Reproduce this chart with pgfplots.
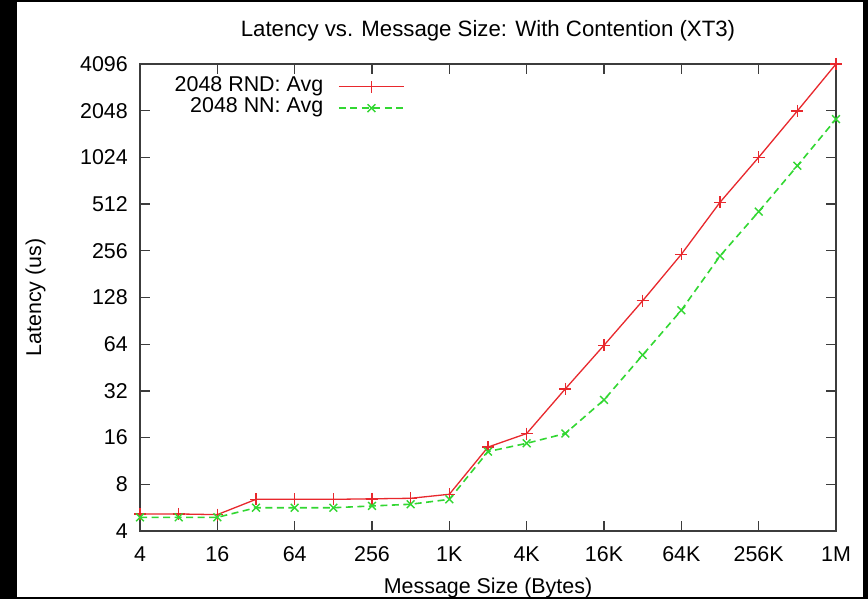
\documentclass[border=0pt]{standalone}
\usepackage{pgfplots}
\pgfplotsset{compat=1.18}
\usepackage{fontspec}
\setmainfont{Liberation Sans}
\definecolor{gpred}{RGB}{232,40,45}
\definecolor{gpgreen}{RGB}{50,215,50}
\definecolor{axgray}{RGB}{60,60,60}
\begin{document}
\begin{tikzpicture}[x=1bp,y=1bp]
\fill[black] (0,0) rectangle (868,599);
\fill[white] (17,2) rectangle (863,596.5);
\begin{axis}[
  at={(140bp,68bp)}, anchor=south west, scale only axis,
  width=696bp, height=467bp,
  xmode=log, ymode=log, log basis x=2, log basis y=2,
  xmin=4, xmax=1048576, ymin=4, ymax=4096,
  xtick={4,16,64,256,1024,4096,16384,65536,262144,1048576},
  xticklabels={4,16,64,256,1K,4K,16K,64K,256K,1M},
  ytick={4,8,16,32,64,128,256,512,1024,2048,4096},
  yticklabels={4,8,16,32,64,128,256,512,1024,2048,4096},
  minor xtick={}, minor ytick={},
  tick align=inside, major tick length=10bp,
  tick style={axgray, line width=1.3bp},
  axis line style={axgray, line width=1.6bp},
  font=\fontsize{21.5}{25}\selectfont,
  xticklabel style={anchor=base, inner sep=0pt, yshift=-31bp},
  yticklabel style={anchor=east, inner sep=0pt, xshift=-12bp},
  title={Latency vs. Message Size: With Contention (XT3)},
  title style={at={(axis description cs:0.5,1.046)}, anchor=base, inner sep=0pt, font=\fontsize{22.3}{26}\selectfont},
  xlabel={Message Size (Bytes)},
  xlabel style={at={(axis description cs:0.5,-0.1328)}, anchor=base, inner sep=0pt},
  ylabel={Latency (us)},
  ylabel style={at={(axis description cs:-0.1422,0.5)}, anchor=base, inner sep=0pt},
  clip=false,
  legend plot pos=right,
  legend cell align=right,
  legend style={fill=none, draw=white, inner sep=0pt, column sep=15bp, row sep=0pt,
    at={(axis description cs:0.3807,0.9732)}, anchor=north east,
    nodes={inner sep=0pt, text height=15bp, text depth=6bp}},
]
\addplot[color=gpred, line width=1.3bp, mark=+, mark size=6bp, mark options={solid, draw=gpred, line width=1.4bp},
  legend image code/.code={\draw[draw=gpred, color=gpred, solid, line width=1.5bp] (0bp,0.5bp) -- (65bp,0.5bp);
    \draw[draw=gpred, color=gpred, solid, line width=1.4bp] (32.5bp,-5.5bp) -- (32.5bp,6.5bp) (26.5bp,0.5bp) -- (38.5bp,0.5bp);}] coordinates {
(4,5.15) (8,5.15) (16,5.1) (32,6.4) (64,6.4) (128,6.4) (256,6.45) (512,6.5)
(1024,6.9) (2048,13.9) (4096,17.0) (8192,33) (16384,63) (32768,122) (65536,243)
(131072,526) (262144,1025) (524288,2040) (1048576,4096)};
\addlegendentry{2048 RND: Avg}
\addplot[color=gpgreen, line width=1.6bp, dash pattern=on 7bp off 4.5bp, mark=x, mark size=5.5bp, mark options={solid, draw=gpgreen, line width=1.4bp},
  legend image code/.code={\draw[draw=gpgreen, line width=1.6bp, dash pattern=on 7bp off 4.5bp] (0bp,0bp) -- (65bp,0bp);
    \draw[draw=gpgreen, solid, line width=1.4bp] (28.6bp,-3.9bp) -- (36.4bp,3.9bp) (28.6bp,3.9bp) -- (36.4bp,-3.9bp);}] coordinates {
(4,4.9) (8,4.9) (16,4.9) (32,5.65) (64,5.65) (128,5.65) (256,5.8) (512,5.95)
(1024,6.4) (2048,13.0) (4096,14.7) (8192,17.0) (16384,28) (32768,54.5) (65536,106)
(131072,237) (262144,458) (524288,904) (1048576,1808)};
\addlegendentry{2048 NN: Avg}
\end{axis}
\end{tikzpicture}
\end{document}
